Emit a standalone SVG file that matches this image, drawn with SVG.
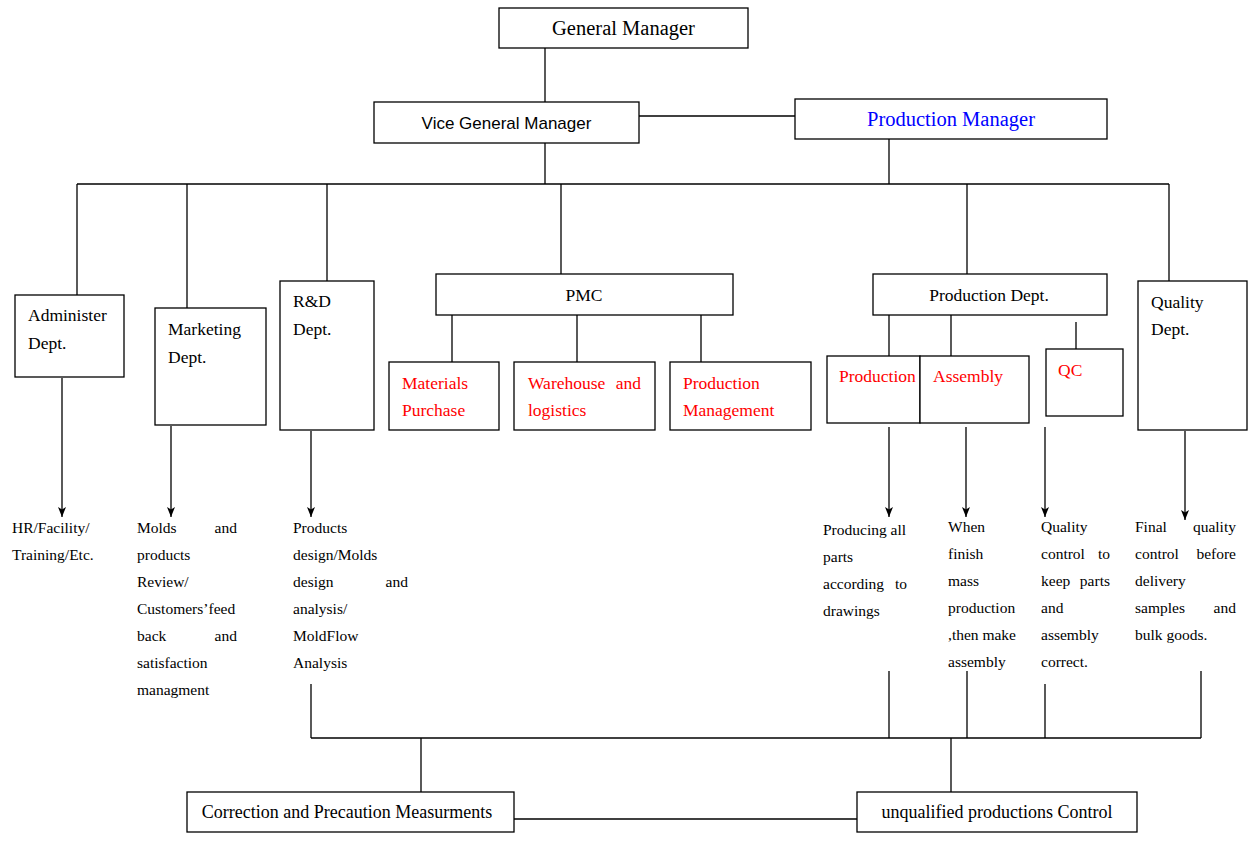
<svg xmlns="http://www.w3.org/2000/svg" width="1256" height="843" viewBox="0 0 1256 843">
<defs>
<marker id="ah" viewBox="0 0 10 8" refX="10" refY="4" markerWidth="10" markerHeight="8" markerUnits="userSpaceOnUse" orient="auto">
<path d="M0,0 L10,4 L0,8 L2.5,4 Z" fill="#000"/>
</marker>
</defs>
<style>
.box{fill:#fff;stroke:#000;stroke-width:1.3}
.ln{fill:none;stroke:#000;stroke-width:1.3}
.arr{fill:none;stroke:#000;stroke-width:1.3}
.t{font-family:"Liberation Serif","Times New Roman",serif;fill:#000}
.s{font-family:"Liberation Sans",Arial,sans-serif;fill:#000}
.red{fill:#ff0000}
.blue{fill:#0000ff}
.b{font-size:17.5px}
.d{font-size:15.5px}
</style>
<rect width="1256" height="843" fill="#fff"/>
<g id="connectors">
<path class="ln" d="M545,48 V102"/>
<path class="ln" d="M639,116 H795"/>
<path class="ln" d="M545,143 V184"/>
<path class="ln" d="M889,139 V184"/>
<path class="ln" d="M77,184 H1169"/>
<path class="ln" d="M77,184 V295"/>
<path class="ln" d="M187,184 V308"/>
<path class="ln" d="M327,184 V281"/>
<path class="ln" d="M561,184 V274"/>
<path class="ln" d="M967,184 V274"/>
<path class="ln" d="M1169,184 V281"/>
<path class="ln" d="M452,315 V362"/>
<path class="ln" d="M577,315 V362"/>
<path class="ln" d="M701,315 V362"/>
<path class="ln" d="M889,315 V356"/>
<path class="ln" d="M951,315 V356"/>
<path class="ln" d="M1076,322 V349"/>
<path class="arr" d="M62,378 V517" marker-end="url(#ah)"/>
<path class="arr" d="M171,426 V517" marker-end="url(#ah)"/>
<path class="arr" d="M311,431 V517" marker-end="url(#ah)"/>
<path class="arr" d="M889,427 V517" marker-end="url(#ah)"/>
<path class="arr" d="M966,427 V517" marker-end="url(#ah)"/>
<path class="arr" d="M1045,427 V517" marker-end="url(#ah)"/>
<path class="arr" d="M1185,431 V520" marker-end="url(#ah)"/>
<path class="ln" d="M311,684 V738"/>
<path class="ln" d="M889,671 V738"/>
<path class="ln" d="M967,671 V738"/>
<path class="ln" d="M1045,684 V738"/>
<path class="ln" d="M1201,671 V738"/>
<path class="ln" d="M311,738 H1201"/>
<path class="ln" d="M421,738 V792"/>
<path class="ln" d="M951,738 V792"/>
<path class="ln" d="M514,819 H857"/>
</g>
<g id="general-manager">
<rect class="box" x="499" y="8" width="249" height="40"/>
<text class="t" x="623.5" y="35" font-size="20.5" text-anchor="middle">General Manager</text>
</g>
<g id="vice-general-manager">
<rect class="box" x="374" y="102" width="265" height="41"/>
<text class="s" x="506.5" y="129" font-size="17" text-anchor="middle">Vice General Manager</text>
</g>
<g id="production-manager">
<rect class="box" x="795" y="99" width="312" height="40"/>
<text class="t blue" x="951" y="126" font-size="20.5" text-anchor="middle">Production Manager</text>
</g>
<g id="administer-dept">
<rect class="box" x="15" y="295" width="109" height="82"/>
<text class="t b" x="28" y="321">Administer<tspan x="28" y="349">Dept.</tspan></text>
</g>
<g id="marketing-dept">
<rect class="box" x="155" y="308" width="111" height="117"/>
<text class="t b" x="168" y="335">Marketing<tspan x="168" y="363">Dept.</tspan></text>
</g>
<g id="rd-dept">
<rect class="box" x="280" y="281" width="94" height="149"/>
<text class="t b" x="293" y="307">R&amp;D<tspan x="293" y="335">Dept.</tspan></text>
</g>
<g id="pmc">
<rect class="box" x="436" y="274" width="297" height="41"/>
<text class="t b" x="584" y="301" text-anchor="middle">PMC</text>
</g>
<g id="materials-purchase">
<rect class="box" x="389" y="362" width="110" height="68"/>
<text class="t b red" x="402" y="389">Materials<tspan x="402" y="416">Purchase</tspan></text>
</g>
<g id="warehouse-logistics">
<rect class="box" x="514" y="362" width="141" height="68"/>
<text class="t b red" x="528" y="389">Warehouse<tspan x="641" text-anchor="end">and</tspan><tspan x="528" y="416">logistics</tspan></text>
</g>
<g id="production-management">
<rect class="box" x="670" y="362" width="141" height="68"/>
<text class="t b red" x="683" y="389">Production<tspan x="683" y="416">Management</tspan></text>
</g>
<g id="production-dept">
<rect class="box" x="873" y="274" width="234" height="41"/>
<text class="t b" x="989" y="301" text-anchor="middle">Production Dept.</text>
</g>
<g id="production">
<rect class="box" x="827" y="356" width="93" height="67"/>
<text class="t b red" x="839" y="382">Production</text>
</g>
<g id="assembly">
<rect class="box" x="920" y="356" width="109" height="67"/>
<text class="t b red" x="933" y="382">Assembly</text>
</g>
<g id="qc">
<rect class="box" x="1046" y="349" width="77" height="67"/>
<text class="t b red" x="1058" y="376">QC</text>
</g>
<g id="quality-dept">
<rect class="box" x="1138" y="281" width="109" height="149"/>
<text class="t b" x="1151" y="308">Quality<tspan x="1151" y="335">Dept.</tspan></text>
</g>
<g id="desc-administer">
<text class="t d" x="12" y="533">HR/Facility/<tspan x="12" y="560">Training/Etc.</tspan></text>
</g>
<g id="desc-marketing">
<text class="t d" x="137" y="533">Molds<tspan x="237" text-anchor="end">and</tspan><tspan x="137" y="560">products</tspan><tspan x="137" y="587">Review/</tspan><tspan x="137" y="614">Customers’feed</tspan><tspan x="137" y="641">back</tspan><tspan x="237" y="641" text-anchor="end">and</tspan><tspan x="137" y="668">satisfaction</tspan><tspan x="137" y="695">managment</tspan></text>
</g>
<g id="desc-rd">
<text class="t d" x="293" y="533">Products<tspan x="293" y="560">design/Molds</tspan><tspan x="293" y="587">design</tspan><tspan x="408" y="587" text-anchor="end">and</tspan><tspan x="293" y="614">analysis/</tspan><tspan x="293" y="641">MoldFlow</tspan><tspan x="293" y="668">Analysis</tspan></text>
</g>
<g id="desc-production">
<text class="t d" x="823" y="535">Producing all<tspan x="823" y="562">parts</tspan><tspan x="823" y="589">according</tspan><tspan x="907" y="589" text-anchor="end">to</tspan><tspan x="823" y="616">drawings</tspan></text>
</g>
<g id="desc-assembly">
<text class="t d" x="948" y="532">When<tspan x="948" y="559">finish</tspan><tspan x="948" y="586">mass</tspan><tspan x="948" y="613">production</tspan><tspan x="948" y="640">,then make</tspan><tspan x="948" y="667">assembly</tspan></text>
</g>
<g id="desc-qc">
<text class="t d" x="1041" y="532">Quality<tspan x="1041" y="559">control</tspan><tspan x="1110" y="559" text-anchor="end">to</tspan><tspan x="1041" y="586">keep</tspan><tspan x="1110" y="586" text-anchor="end">parts</tspan><tspan x="1041" y="613">and</tspan><tspan x="1041" y="640">assembly</tspan><tspan x="1041" y="667">correct.</tspan></text>
</g>
<g id="desc-quality">
<text class="t d" x="1135" y="532">Final<tspan x="1236" text-anchor="end">quality</tspan><tspan x="1135" y="559">control</tspan><tspan x="1236" y="559" text-anchor="end">before</tspan><tspan x="1135" y="586">delivery</tspan><tspan x="1135" y="613">samples</tspan><tspan x="1236" y="613" text-anchor="end">and</tspan><tspan x="1135" y="640">bulk goods.</tspan></text>
</g>
<g id="correction-precaution">
<rect class="box" x="187" y="792" width="327" height="40"/>
<text class="t" x="347" y="818" font-size="18" text-anchor="middle">Correction and Precaution Measurments</text>
</g>
<g id="unqualified-control">
<rect class="box" x="857" y="792" width="280" height="40"/>
<text class="t" x="997" y="818" font-size="18" text-anchor="middle">unqualified productions Control</text>
</g>
</svg>
